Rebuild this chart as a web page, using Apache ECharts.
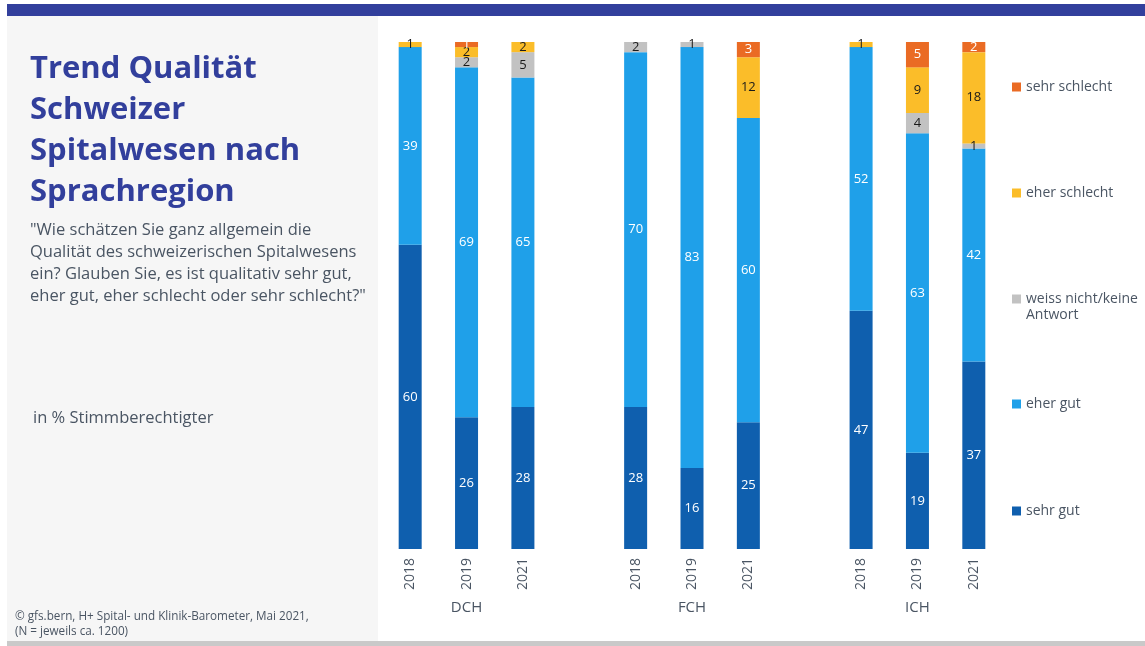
<!DOCTYPE html>
<html>
<head>
<meta charset="utf-8">
<script src="https://cdn.jsdelivr.net/npm/echarts@6/dist/echarts.min.js"></script>
<style>
  html, body { margin: 0; padding: 0; background: #ffffff; }
  #chart { width: 1145px; height: 646px; }
</style>
</head>
<body>
<div id="chart"></div>
<script>
// Survey results per language region and year (in %)
const regions = ['DCH', 'FCH', 'ICH'];
const years = ['2018', '2019', '2021'];
const seriesNames = ['sehr gut', 'eher gut', 'weiss nicht/keine Antwort', 'eher schlecht', 'sehr schlecht'];
const sehrGut      = [60, 26, 28,  28, 16, 25,  47, 19, 37];
const eherGut      = [39, 69, 65,  70, 83, 60,  52, 63, 42];
const weissNicht   = [ 0,  2,  5,   2,  1,  0,   0,  4,  1];
const eherSchlecht = [ 1,  2,  2,   0,  0, 12,   1,  9, 18];
const sehrSchlecht = [ 0,  1,  0,   0,  0,  3,   0,  5,  2];

const colors = ['#0f5fae', '#1fa0e9', '#c2c2c2', '#fbbd29', '#ea6b24'];
const labelColors = ['#ffffff', '#ffffff', '#1a1a1a', '#1a1a1a', '#ffffff'];
const textGrey = '#4a5563';

// Category slots: three years per region, one empty slot between regions
const slots = [];
const slotYear = [];
const slotGroup = [];
regions.forEach((r, gi) => {
  if (gi > 0) { slots.push('gap' + gi); slotYear.push(''); slotGroup.push(''); }
  years.forEach((y, yi) => {
    slots.push(r + ' ' + y);
    slotYear.push(y);
    slotGroup.push(yi === 1 ? r : '');
  });
});

function toSlots(values) {
  const out = [];
  let k = 0;
  regions.forEach((r, gi) => {
    if (gi > 0) out.push(null);
    years.forEach(() => { out.push(values[k++]); });
  });
  return out;
}

const valueSets = [sehrGut, eherGut, weissNicht, eherSchlecht, sehrSchlecht];

const series = valueSets.map((vals, i) => ({
  name: seriesNames[i],
  type: 'bar',
  stack: 'total',
  barWidth: 23,
  data: toSlots(vals),
  itemStyle: { color: colors[i] },
  label: {
    show: true,
    position: 'inside',
    color: labelColors[i],
    fontFamily: 'Open Sans',
    fontSize: 13,
    formatter: p => (p.value ? String(p.value) : '')
  },
  emphasis: { disabled: true }
}));

// One legend block per category, stacked on the right side
const legendRows = [
  { name: 'sehr schlecht', text: 'sehr schlecht', y: 85 },
  { name: 'eher schlecht', text: 'eher schlecht', y: 191 },
  { name: 'weiss nicht/keine Antwort', text: 'weiss nicht/keine', y: 297 },
  { name: 'eher gut', text: 'eher gut', y: 402 },
  { name: 'sehr gut', text: 'sehr gut', y: 509 }
];
const legends = legendRows.map(row => ({
  data: [row.name],
  left: 1007,
  top: row.y - 10,
  icon: 'rect',
  itemWidth: 9,
  itemHeight: 9,
  selectedMode: false,
  formatter: () => row.text,
  textStyle: { color: textGrey, fontFamily: 'Open Sans', fontSize: 14 }
}));

const chart = echarts.init(document.getElementById('chart'), null, { renderer: 'canvas' });

chart.setOption({
  animation: false,
  backgroundColor: '#ffffff',
  graphic: [
    { type: 'rect', shape: { x: 7, y: 4, width: 1138, height: 12 }, style: { fill: '#323f9c' }, z: -10 },
    { type: 'rect', shape: { x: 7, y: 16, width: 371, height: 625 }, style: { fill: '#f6f6f6' }, z: -10 },
    { type: 'rect', shape: { x: 7, y: 641, width: 1138, height: 5 }, style: { fill: '#c9c9c9' }, z: -10 },
    { type: 'text', left: 1026, top: 308, style: { text: 'Antwort', fill: textGrey, font: '14px "Open Sans"' } }
  ],
  title: [
    {
      text: 'Trend Qualität\nSchweizer\nSpitalwesen nach\nSprachregion',
      left: 25, top: 44,
      textStyle: { color: '#323f9c', fontFamily: 'Open Sans', fontWeight: 'bold', fontSize: 31, lineHeight: 41 }
    },
    {
      text: '"Wie schätzen Sie ganz allgemein die\nQualität des schweizerischen Spitalwesens\nein? Glauben Sie, es ist qualitativ sehr gut,\neher gut, eher schlecht oder sehr schlecht?"',
      left: 25, top: 214,
      textStyle: { color: textGrey, fontFamily: 'Open Sans', fontWeight: 'normal', fontSize: 16.5, lineHeight: 22 }
    },
    {
      text: 'in % Stimmberechtigter',
      left: 28, top: 405,
      textStyle: { color: textGrey, fontFamily: 'Open Sans', fontWeight: 'normal', fontSize: 16.5 }
    },
    {
      text: '© gfs.bern, H+ Spital- und Klinik-Barometer, Mai 2021,\n(N = jeweils ca. 1200)',
      left: 10, top: 604,
      textStyle: { color: textGrey, fontFamily: 'Open Sans', fontWeight: 'normal', fontSize: 11.7, lineHeight: 15 }
    }
  ],
  legend: legends,
  grid: { left: 382, right: 143, top: 42, bottom: 97, containLabel: false },
  xAxis: [
    {
      type: 'category',
      data: slots,
      axisLine: { show: false },
      axisTick: { show: false },
      axisLabel: {
        rotate: 90,
        margin: 9,
        interval: 0,
        color: textGrey,
        fontFamily: 'Open Sans',
        fontSize: 14,
        formatter: (v, i) => slotYear[i]
      }
    },
    {
      type: 'category',
      position: 'bottom',
      data: slots,
      axisLine: { show: false },
      axisTick: { show: false },
      axisLabel: {
        margin: 51,
        interval: 0,
        color: textGrey,
        fontFamily: 'Open Sans',
        fontSize: 15,
        formatter: (v, i) => slotGroup[i]
      }
    }
  ],
  yAxis: { type: 'value', min: 0, max: 100, show: false },
  series: series
});
</script>
</body>
</html>
